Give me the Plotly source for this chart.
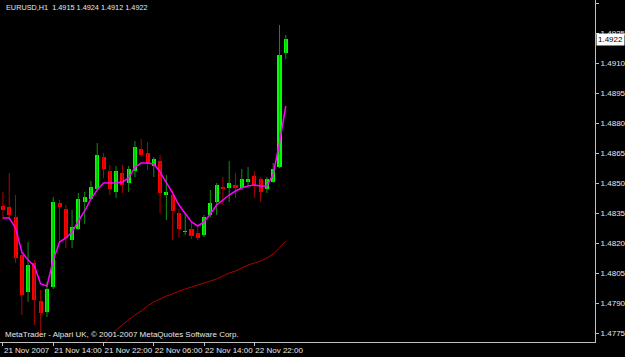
import plotly.graph_objects as go

# ---- data (EURUSD H1, bars from 21 Nov 2007 06:00) ----
opens = [1.48385, 1.48380, 1.48330, 1.48140, 1.47955, 1.48100, 1.47910, 1.47855, 1.47980, 1.48400,
         1.48370, 1.48215, 1.48270, 1.48405, 1.48420, 1.48470, 1.48630, 1.48560, 1.48455, 1.48550,
         1.48500, 1.48560, 1.48670, 1.48650, 1.48585, 1.48610, 1.48440, 1.48440, 1.48350, 1.48255,
         1.48270, 1.48250, 1.48240, 1.48340, 1.48405, 1.48480, 1.48475, 1.48490, 1.48475, 1.48505,
         1.48535, 1.48520, 1.48470, 1.48505, 1.48580, 1.49150]
highs = [1.48455, 1.48550, 1.48440, 1.48155, 1.48205, 1.48115, 1.47965, 1.48005, 1.48430, 1.48415,
         1.48390, 1.48365, 1.48450, 1.48455, 1.48510, 1.48700, 1.48650, 1.48590, 1.48585, 1.48590,
         1.48585, 1.48710, 1.48720, 1.48705, 1.48630, 1.48640, 1.48540, 1.48465, 1.48370, 1.48350,
         1.48305, 1.48280, 1.48340, 1.48465, 1.48500, 1.48530, 1.48610, 1.48550, 1.48570, 1.48580,
         1.48560, 1.48530, 1.48530, 1.48600, 1.49290, 1.49240]
lows = [1.48315, 1.48315, 1.48100, 1.47840, 1.47905, 1.47790, 1.47750, 1.47830, 1.47970, 1.48200,
        1.48175, 1.48175, 1.48265, 1.48295, 1.48415, 1.48465, 1.48525, 1.48440, 1.48425, 1.48450,
        1.48455, 1.48530, 1.48630, 1.48565, 1.48530, 1.48350, 1.48315, 1.48215, 1.48230, 1.48240,
        1.48220, 1.48215, 1.48230, 1.48330, 1.48340, 1.48390, 1.48405, 1.48425, 1.48465, 1.48490,
        1.48425, 1.48405, 1.48450, 1.48500, 1.48575, 1.49120]
closes = [1.48365, 1.48340, 1.48125, 1.47940, 1.48090, 1.47915, 1.47850, 1.47970, 1.48405, 1.48380,
          1.48225, 1.48280, 1.48420, 1.48430, 1.48480, 1.48640, 1.48570, 1.48470, 1.48560, 1.48490,
          1.48570, 1.48680, 1.48640, 1.48595, 1.48620, 1.48450, 1.48455, 1.48360, 1.48270, 1.48260,
          1.48235, 1.48225, 1.48330, 1.48400, 1.48490, 1.48470, 1.48500, 1.48475, 1.48520, 1.48520,
          1.48490, 1.48455, 1.48520, 1.48570, 1.49140, 1.49220]
ma_fast = [1.48325, 1.48325, 1.48275, 1.48155, 1.48115, 1.48085, 1.47995, 1.47985, 1.48115, 1.48205,
           1.48225, 1.48255, 1.48310, 1.48360, 1.48420, 1.48465, 1.48500, 1.48500, 1.48500, 1.48505,
           1.48525, 1.48580, 1.48600, 1.48600, 1.48595, 1.48555, 1.48505, 1.48450, 1.48390, 1.48345,
           1.48305, 1.48285, 1.48305, 1.48345, 1.48390, 1.48415, 1.48440, 1.48460, 1.48475, 1.48485,
           1.48490, 1.48485, 1.48485, 1.48545, 1.48700, 1.48885]
ma_slow_start = 15
ma_slow = [1.47665, 1.47700, 1.47735, 1.47765, 1.47790, 1.47815, 1.47840, 1.47860, 1.47885, 1.47905,
           1.47920, 1.47935, 1.47945, 1.47960, 1.47970, 1.47980, 1.47990, 1.48000, 1.48010, 1.48020,
           1.48035, 1.48050, 1.48060, 1.48075, 1.48090, 1.48100, 1.48110, 1.48125, 1.48145, 1.48175,
           1.48210]
tick_idx = [0, 8, 16, 24, 32, 40]
tick_text = ["21 Nov 2007", "21 Nov 14:00", "21 Nov 22:00", "22 Nov 06:00", "22 Nov 14:00", "22 Nov 22:00"]
price_ticks = [1.4775, 1.4790, 1.4805, 1.4820, 1.4835, 1.4850, 1.4865, 1.4880, 1.4895, 1.4910, 1.4925, 1.4940]
symbol_title = "EURUSD,H1  1.4915 1.4924 1.4912 1.4922"
copyright_text = "MetaTrader - Alpari UK, \u00a9 2001-2007 MetaQuotes Software Corp."

# ---- styles ----
BULL, BEAR = "#00ff00", "#ff0000"
BULL_WICK, BEAR_WICK = "#109010", "#b00000"
TXT = "#e8e8e8"
AXC = "#c0c0c0"
FONT = "Liberation Sans"

n = len(opens)
xs = list(range(n))
up = [c >= o for o, c in zip(opens, closes)]

fig = go.Figure()

# wicks
for is_up, col in ((True, BULL_WICK), (False, BEAR_WICK)):
    wx, wy = [], []
    for i in xs:
        if up[i] == is_up:
            wx += [i, i, None]
            wy += [lows[i], highs[i], None]
    fig.add_trace(go.Scatter(x=wx, y=wy, mode="lines", line=dict(color=col, width=1),
                             hoverinfo="skip", showlegend=False))

# bodies
fig.add_trace(go.Bar(
    x=xs,
    base=[min(o, c) for o, c in zip(opens, closes)],
    y=[max(abs(c - o), 0.00003) for o, c in zip(opens, closes)],
    width=0.64,
    marker=dict(color=[BULL if u else BEAR for u in up], line=dict(width=0)),
    showlegend=False,
))

# moving averages
fig.add_trace(go.Scatter(x=xs, y=ma_fast, mode="lines",
                         line=dict(color="#ff00ff", width=1.5), showlegend=False))
fig.add_trace(go.Scatter(x=list(range(ma_slow_start, ma_slow_start + len(ma_slow))), y=ma_slow,
                         mode="lines", line=dict(color="#b00000", width=1), showlegend=False))

fig.update_layout(
    width=625, height=357,
    margin=dict(l=0, r=30, t=0, b=15, autoexpand=False),
    paper_bgcolor="#000000", plot_bgcolor="#000000",
    font=dict(family=FONT, size=8, color=TXT),
    bargap=0,
    xaxis=dict(range=[-0.47, 94.2], showgrid=False, zeroline=False, automargin=False,
               showline=True, linecolor=AXC, linewidth=1,
               tickmode="array", tickvals=tick_idx, ticktext=tick_text,
               ticks="outside", ticklen=3, tickcolor=AXC, tickangle=0,
               ticklabelposition="outside right", ticklabelstandoff=0,
               tickfont=dict(family=FONT, size=8, color=TXT)),
    yaxis=dict(range=[1.47705, 1.49415], side="right", showgrid=False, zeroline=False,
               automargin=False,
               showline=True, mirror=True, linecolor=AXC, linewidth=1,
               tickmode="array", tickvals=price_ticks,
               ticktext=[f"{p:.4f}" for p in price_ticks],
               ticks="outside", ticklen=3, tickcolor=AXC,
               tickfont=dict(family=FONT, size=8, color=TXT)),
    annotations=[
        dict(text=symbol_title, xref="paper", yref="paper", x=0, y=1, xanchor="left", yanchor="top",
             xshift=4, yshift=-1, showarrow=False, font=dict(family=FONT, size=7.3, color=TXT)),
        dict(text=copyright_text, xref="paper", yref="paper", x=0, y=0, xanchor="left", yanchor="bottom",
             xshift=3, yshift=1, showarrow=False, font=dict(family=FONT, size=8, color=TXT)),
        dict(text=f"{closes[-1]:.4f}", xref="paper", yref="y", x=1, y=closes[-1], xanchor="left",
             yanchor="middle", xshift=1, showarrow=False, bgcolor="#ffffff", borderpad=1,
             font=dict(family=FONT, size=8, color="#000000")),
    ],
)

fig.write_html("out.html")
